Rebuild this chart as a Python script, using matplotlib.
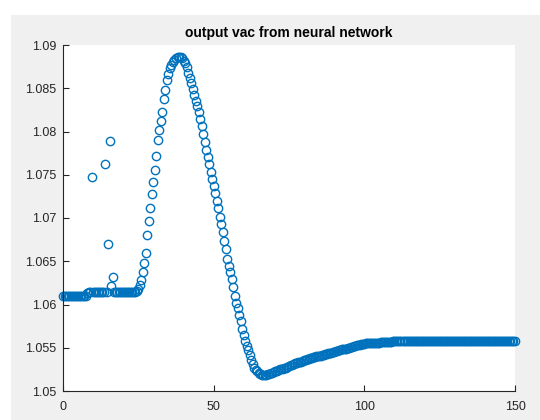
from matplotlib import pyplot as plt
from matplotlib.patches import Rectangle
import numpy as np

plt.rc('font', family='Liberation Sans', size=9)

# sample grid of the series (step 0.5 from 0 to 150)
x = np.arange(0, 150.5, 0.5)

vac = [
    # 0 - 4.5
    1.0610, 1.0610, 1.0610, 1.0610, 1.0610, 1.0610, 1.0610, 1.0610, 1.0610, 1.0610,
    # 5 - 9.5
    1.0610, 1.0610, 1.0610, 1.0610, 1.0610, 1.0610, 1.0613, 1.0614, 1.0614, 1.0747,
    # 10 - 14.5
    1.0614, 1.0614, 1.0614, 1.0614, 1.0614, 1.0614, 1.0614, 1.0614, 1.0762, 1.0614,
    # 15 - 19.5
    1.0670, 1.0789, 1.0621, 1.0632, 1.0614, 1.0614, 1.0614, 1.0614, 1.0614, 1.0614,
    # 20 - 24.5
    1.0614, 1.0614, 1.0614, 1.0614, 1.0614, 1.0614, 1.0614, 1.0614, 1.0615, 1.0616,
    # 25 - 29.5
    1.0618, 1.0622, 1.0628, 1.0638, 1.0648, 1.0660, 1.0680, 1.0696, 1.0712, 1.0728,
    # 30 - 34.5
    1.0742, 1.0756, 1.0772, 1.0790, 1.0802, 1.0812, 1.0822, 1.0837, 1.0848, 1.0860,
    # 35 - 39.5
    1.0867, 1.0873, 1.0877, 1.0880, 1.0883, 1.0885, 1.0886, 1.0886, 1.0886, 1.0885,
    # 40 - 44.5
    1.0882, 1.0879, 1.0874, 1.0868, 1.0862, 1.0856, 1.0849, 1.0842, 1.0835, 1.0829,
    # 45 - 49.5
    1.0822, 1.0814, 1.0806, 1.0797, 1.0788, 1.0779, 1.0770, 1.0762, 1.0753, 1.0745,
    # 50 - 54.5
    1.0737, 1.0729, 1.0720, 1.0711, 1.0701, 1.0693, 1.0684, 1.0673, 1.0664, 1.0653,
    # 55 - 59.5
    1.0645, 1.0638, 1.0629, 1.0620, 1.0610, 1.0602, 1.0596, 1.0588, 1.0581, 1.0572,
    # 60 - 64.5
    1.0565, 1.0558, 1.0552, 1.0547, 1.0542, 1.0536, 1.0531, 1.0527, 1.0524, 1.0523,
    # 65 - 69.5
    1.0521, 1.0520, 1.0519, 1.0519, 1.0519, 1.0519, 1.0520, 1.0520, 1.0521, 1.0521,
    # 70 - 74.5
    1.0522, 1.0523, 1.0523, 1.0524, 1.0525, 1.0525, 1.0526, 1.0527, 1.0527, 1.0528,
    # 75 - 79.5
    1.0529, 1.0530, 1.0530, 1.0531, 1.0532, 1.0532, 1.0533, 1.0534, 1.0534, 1.0535,
    # 80 - 84.5
    1.0536, 1.0536, 1.0537, 1.0537, 1.0538, 1.0538, 1.0539, 1.0539, 1.0540, 1.0540,
    # 85 - 89.5
    1.0541, 1.0541, 1.0542, 1.0542, 1.0543, 1.0543, 1.0544, 1.0544, 1.0544, 1.0545,
    # 90 - 94.5
    1.0545, 1.0546, 1.0546, 1.0547, 1.0547, 1.0548, 1.0548, 1.0549, 1.0549, 1.0550,
    # 95 - 99.5
    1.0550, 1.0551, 1.0551, 1.0552, 1.0552, 1.0553, 1.0553, 1.0553, 1.0554, 1.0554,
    # 100 - 104.5
    1.0554, 1.0555, 1.0555, 1.0555, 1.0555, 1.0556, 1.0556, 1.0556, 1.0556, 1.0556,
    # 105 - 109.5
    1.0556, 1.0557, 1.0557, 1.0557, 1.0557, 1.0557, 1.0557, 1.0557, 1.0557, 1.0558,
    # 110 - 114.5
    1.0558, 1.0558, 1.0558, 1.0558, 1.0558, 1.0558, 1.0558, 1.0558, 1.0558, 1.0558,
    # 115 - 119.5
    1.0558, 1.0558, 1.0558, 1.0558, 1.0558, 1.0558, 1.0558, 1.0558, 1.0558, 1.0558,
    # 120 - 124.5
    1.0558, 1.0558, 1.0558, 1.0558, 1.0558, 1.0558, 1.0558, 1.0558, 1.0558, 1.0558,
    # 125 - 129.5
    1.0558, 1.0558, 1.0558, 1.0558, 1.0558, 1.0558, 1.0558, 1.0558, 1.0558, 1.0558,
    # 130 - 134.5
    1.0558, 1.0558, 1.0558, 1.0558, 1.0558, 1.0558, 1.0558, 1.0558, 1.0558, 1.0558,
    # 135 - 139.5
    1.0558, 1.0558, 1.0558, 1.0558, 1.0558, 1.0558, 1.0558, 1.0558, 1.0558, 1.0558,
    # 140 - 144.5
    1.0558, 1.0558, 1.0558, 1.0558, 1.0558, 1.0558, 1.0558, 1.0558, 1.0558, 1.0558,
    # 145 - 150
    1.0558, 1.0558, 1.0558, 1.0558, 1.0558, 1.0558, 1.0558, 1.0558, 1.0558, 1.0558,
    1.0558,
]

xticks = [0, 50, 100, 150]
yticks = [1.05, 1.055, 1.06, 1.065, 1.07, 1.075, 1.08, 1.085, 1.09]
ytick_labels = ['1.05', '1.055', '1.06', '1.065', '1.07', '1.075', '1.08', '1.085', '1.09']

fig = plt.figure(figsize=(5.4, 4.2), dpi=100, facecolor='white')
# matlab grey window area
fig.patches.append(Rectangle((11/540, 0), 1, 1 - 15/420, transform=fig.transFigure,
                             facecolor='#f0f0f0', edgecolor='none', zorder=-1))

ax = fig.add_axes([63/540, 29/420, 452/540, 346/420])
ax.plot(x, vac, linestyle='none', marker='o', mfc='none', mec='#0072bd',
        ms=6, mew=1.0, clip_on=False)

ax.set_xlim(0, 150)
ax.set_ylim(1.05, 1.09)
ax.set_xticks(xticks)
ax.set_xticklabels([str(t) for t in xticks])
ax.set_yticks(yticks)
ax.set_yticklabels(ytick_labels)

for side in ['top', 'right']:
    ax.spines[side].set_visible(False)
for side in ['left', 'bottom']:
    ax.spines[side].set_color('#262626')
    ax.spines[side].set_linewidth(0.8)
ax.tick_params(which='major', direction='in', length=4, width=0.8,
               colors='#262626', labelcolor='#262626')
ax.tick_params(axis='x', pad=7)
ax.tick_params(axis='y', pad=5)

ax.set_title('output vac from neural network', fontsize=10, fontweight='bold', pad=6)

fig.savefig('out.png', dpi=100, facecolor=fig.get_facecolor())
